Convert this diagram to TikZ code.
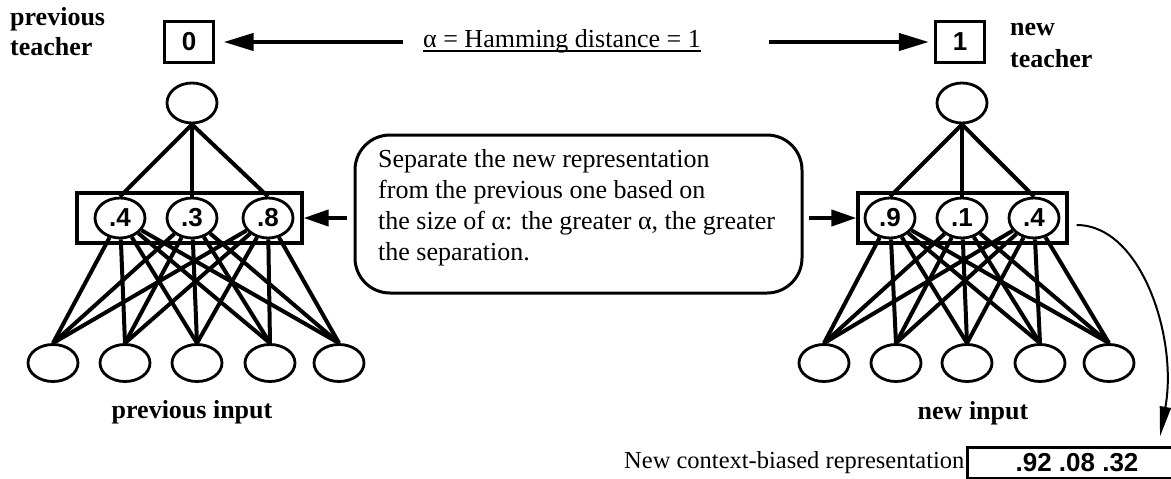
\documentclass[tikz,border=0pt]{standalone}
\usepackage{fontspec}
\setmainfont{Liberation Serif}
\setsansfont{Liberation Sans}
\usetikzlibrary{shapes.geometric,arrows.meta}

\begin{document}
\begin{tikzpicture}[x=1pt,y=-1pt,
  unit/.style={ellipse,draw,line width=2.8pt,minimum width=50pt,minimum height=40pt,
    inner sep=0pt,font=\sffamily\bfseries\fontsize{26}{26}\selectfont},
  inunit/.style={unit,minimum height=37pt},
  tbox/.style={draw,line width=3.2pt,minimum width=49pt,minimum height=41pt,inner sep=0pt,
    font=\sffamily\bfseries\fontsize{26}{26}\selectfont},
  hbox/.style={draw,line width=3.2pt,minimum height=50pt,inner sep=0pt},
  link/.style={line width=4pt},
  bigarrow/.style={line width=4pt,-{Triangle[length=30pt,width=17pt]}},
  medarrow/.style={line width=4pt,-{Triangle[length=25pt,width=16pt]}},
  lbl/.style={inner sep=0pt,font=\bfseries\fontsize{26}{30}\selectfont},
  txt/.style={inner sep=0pt,font=\fontsize{26}{31}\selectfont}]
\useasboundingbox (0,0) rectangle (1171,479);

% teacher values and the Hamming distance between them
\node[tbox] (b0) at (189,42) {0};
\node[tbox] (b1) at (960,42) {1};
\node[txt,anchor=base] (ham) at (562,47) {α = Hamming distance = 1};
\draw[line width=1.2pt] ([yshift=-4pt]ham.base west) -- ([yshift=-4pt]ham.base east);
\coordinate (la) at (403,42);
\coordinate (ra) at (769,42);
\draw[bigarrow,shorten >=8.5pt] (la) -- (b0.east);
\draw[bigarrow,shorten >=5pt] (ra) -- (b1.west);

\node[lbl,anchor=base west] (prevt) at (10,25) {\parbox[t]{150pt}{previous\\teacher}};
\node[lbl,anchor=base west,font=\bfseries\fontsize{26}{32}\selectfont] (newt) at (1010,35) {\parbox[t]{150pt}{new\\teacher}};

% previous network
\node[unit] (t1) at (192,103) {};
\node[hbox,minimum width=225pt] (hb1) at (189.5,218) {};
\node[unit] (h11) at (120,218) {.4};
\node[unit] (h12) at (192,218) {.3};
\node[unit] (h13) at (268,218) {.8};
\foreach \n/\x in {1/53,2/125,3/197,4/270,5/339}
  \node[inunit] (i1\n) at (\x,363) {};
\foreach \h in {1,2,3} {
  \draw[link] (t1.south) -- (h1\h.north);
  \foreach \n in {1,...,5} \draw[link] (h1\h) -- (i1\n.north);
}
\node[lbl,anchor=base] (previn) at (192,418) {previous input};

% new network
\node[unit] (t2) at (962,103) {};
\node[hbox,minimum width=209pt] (hb2) at (962.5,218) {};
\node[unit] (h21) at (890,218) {.9};
\node[unit] (h22) at (962,218) {.1};
\node[unit] (h23) at (1034,218) {.4};
\foreach \n/\x in {1/824,2/896,3/967,4/1040,5/1109}
  \node[inunit] (i2\n) at (\x,363) {};
\foreach \h in {1,2,3} {
  \draw[link] (t2.south) -- (h2\h.north);
  \foreach \n in {1,...,5} \draw[link] (h2\h) -- (i2\n.north);
}
\node[lbl,anchor=base] (newin) at (973,419) {new input};

% separation note
\node[draw,line width=3pt,rounded corners=35pt,minimum width=447pt,minimum height=158pt] (sep) at (578.5,214) {};
\node[txt,anchor=base west] (septext) at (378,167) {\parbox[t]{420pt}{Separate the new representation\\from the previous one based on\\the size of α: the greater α, the greater\\the separation.}};
\draw[medarrow] (sep.west |- hb1.east) ++(-7,0) -- (hb1.east);
\draw[medarrow] (sep.east |- hb2.west) ++(5,0) -- (hb2.west);

% resulting representation
\node[inner sep=0pt,anchor=base west,font=\fontsize{24.5}{25}\selectfont] (ctxlabel) at (624,468) {New context-biased representation:};
\node[draw,line width=3pt,minimum width=220pt,minimum height=31pt,inner sep=0pt,
  font=\sffamily\bfseries\fontsize{26}{26}\selectfont] (ctx) at (1077,462.5) {.92 .08 .32};
\draw[line width=2pt,-{Triangle[length=30pt,width=11pt]}]
  ([shift={(8,7)}]hb2.east) .. controls +(65,0) and +(18,-98) .. ([shift={(83,-9)}]ctx.north);
\end{tikzpicture}
\end{document}
